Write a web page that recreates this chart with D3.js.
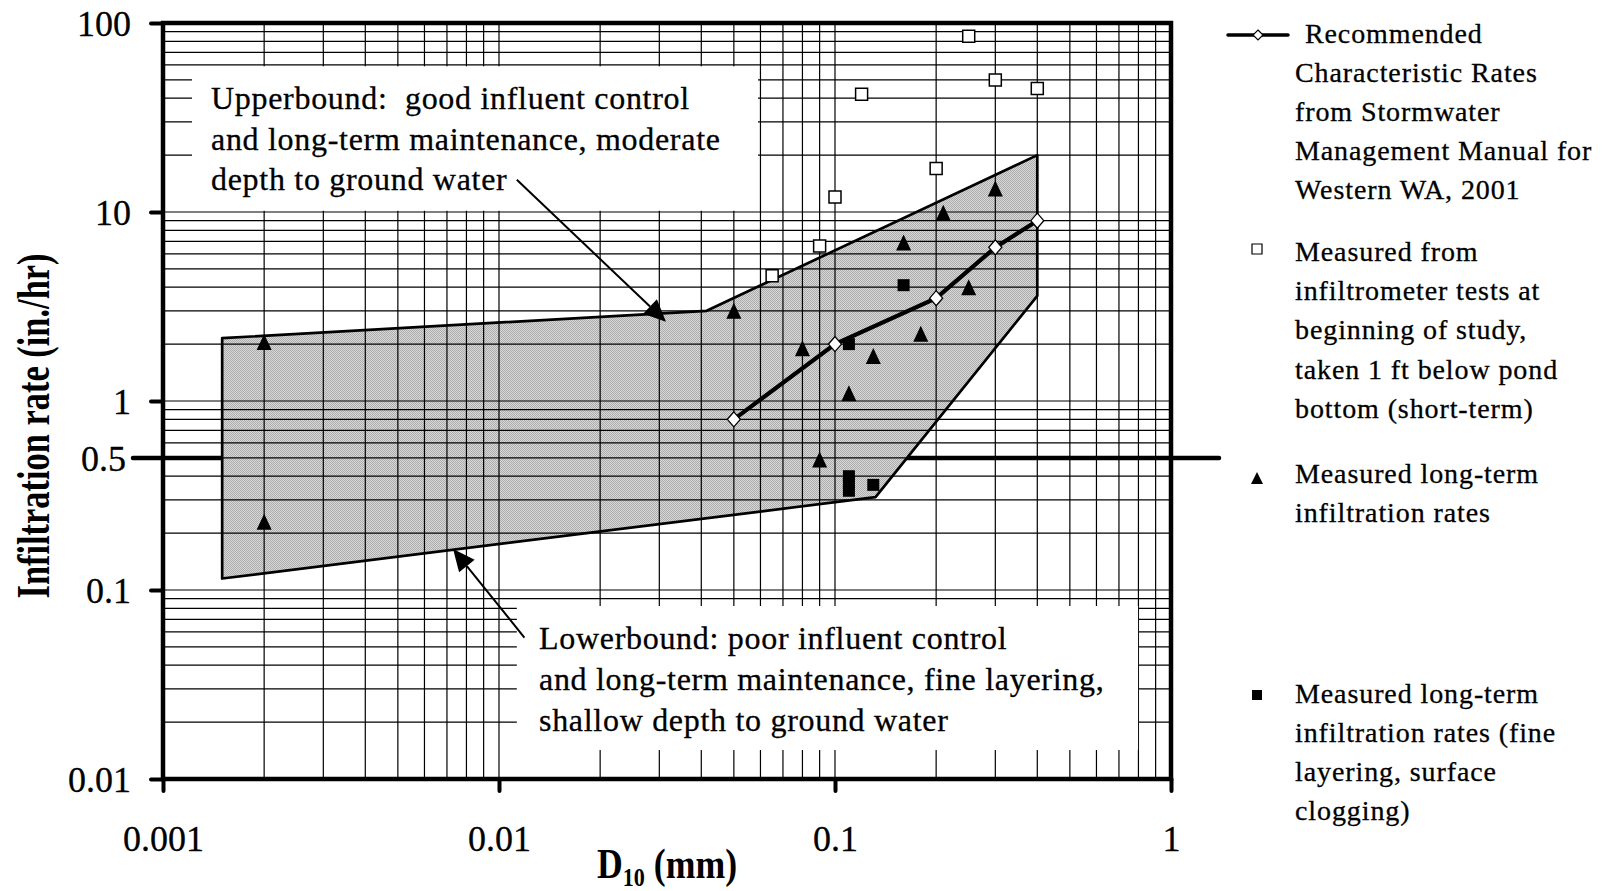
<!DOCTYPE html>
<html>
<head>
<meta charset="utf-8">
<script src="https://cdn.jsdelivr.net/npm/d3@7"></script>
<style>
  html, body { margin: 0; padding: 0; background: #fff; }
  svg { display: block; }
  text { font-family: "Liberation Serif", "Times New Roman", serif; fill: #000; }
</style>
</head>
<body>
<svg id="chart" width="1610" height="891"></svg>
<script>
// ---- Axis ticks ----
const xTickValues = [0.001, 0.01, 0.1, 1];
const xTickLabels = ["0.001", "0.01", "0.1", "1"];
const yTickValues = [0.01, 0.1, 1, 10, 100];
const yTickLabels = ["0.01", "0.1", "1", "10", "100"];

// ---- Recommended characteristic rates (Western WA manual, 2001) ----
const recD10  = [0.05, 0.1, 0.2, 0.3, 0.4];
const recRate = [0.8, 2.0, 3.5, 6.5, 9.0];

// ---- Infiltrometer tests at beginning of study (short-term) ----
const shortD10  = [0.065, 0.09, 0.1, 0.12, 0.2, 0.25, 0.3, 0.4];
const shortRate = [4.6, 6.6, 12, 42, 17, 85, 50, 45];

// ---- Measured long-term infiltration rates ----
const longD10  = [0.002, 0.002, 0.05, 0.08, 0.09, 0.11, 0.13, 0.16, 0.18, 0.21, 0.25, 0.3];
const longRate = [2.05, 0.23, 3.0, 1.9, 0.49, 1.1, 1.73, 6.9, 2.27, 9.9, 4.0, 13.3];

// ---- Long-term rates with fine layering / surface clogging ----
const layerD10  = [0.11, 0.11, 0.11, 0.11, 0.13, 0.16];
const layerRate = [2.0, 0.40, 0.37, 0.335, 0.36, 4.1];

// ---- Envelope: upper bound then lower bound ----
const boundD10  = [0.0015, 0.0415, 0.4, 0.4, 0.132, 0.0015];
const boundRate = [2.15, 3.0, 20, 3.6, 0.31, 0.115];

// ---- Reference rate line ----
const thresholdRate = 0.5;
const thresholdLabel = "0.5";

// ---- Annotation texts ----
const upperNote = ["Upperbound:  good influent control",
                   "and long-term maintenance, moderate",
                   "depth to ground water"];
const lowerNote = ["Lowerbound: poor influent control",
                   "and long-term maintenance, fine layering,",
                   "shallow depth to ground water"];

// ---- Legend texts ----
const legendRec   = [" Recommended", "Characteristic Rates", "from Stormwater",
                     "Management Manual for", "Western WA, 2001"];
const legendShort = ["Measured from", "infiltrometer tests at", "beginning of study,",
                     "taken 1 ft below pond", "bottom (short-term)"];
const legendLong  = ["Measured long-term", "infiltration rates"];
const legendLayer = ["Measured long-term", "infiltration rates (fine",
                     "layering, surface", "clogging)"];

const svg = d3.select("#chart");
const W = 1610, H = 891;
svg.append("rect").attr("width", W).attr("height", H).attr("fill", "#fff");

const x = d3.scaleLog().domain([0.001, 1]).range([163, 1171]);
const y = d3.scaleLog().domain([0.01, 100]).range([779, 23]);
const [x0, x1] = x.range();
const [y1, y0] = y.range();

// dithered grey fill for the envelope
const defs = svg.append("defs");
const pat = defs.append("pattern").attr("id", "dither")
  .attr("patternUnits", "userSpaceOnUse").attr("width", 2).attr("height", 2);
pat.append("rect").attr("width", 2).attr("height", 2).attr("fill", "#d8d8d8");
pat.append("rect").attr("x", 0).attr("y", 0).attr("width", 1).attr("height", 1).attr("fill", "#acacac");
pat.append("rect").attr("x", 1).attr("y", 1).attr("width", 1).attr("height", 1).attr("fill", "#acacac");

// thick reference line at 0.5 in./hr (under the envelope)
svg.append("line")
  .attr("x1", x0 - 30).attr("x2", x1 + 48)
  .attr("y1", y(thresholdRate)).attr("y2", y(thresholdRate))
  .attr("stroke", "#000").attr("stroke-width", 4.5).attr("stroke-linecap", "round");

// envelope fill
const boundPts = boundD10.map((d, i) => [x(d), y(boundRate[i])]);
const polyLine = d3.line();
svg.append("path")
  .attr("d", polyLine(boundPts) + "Z")
  .attr("fill", "url(#dither)");

// log gridlines
const gridX = [], gridY = [];
for (let e = -3; e < 0; e++) for (let m = 1; m <= 9; m++) gridX.push(m * Math.pow(10, e));
for (let e = -2; e < 2; e++) for (let m = 1; m <= 9; m++) gridY.push(m * Math.pow(10, e));
const grid = svg.append("g").attr("stroke", "#000").attr("stroke-width", 1.2);
grid.selectAll("line.gx").data(gridX.filter(v => v > 0.001)).join("line")
  .attr("x1", d => x(d)).attr("x2", d => x(d)).attr("y1", y0).attr("y2", y1);
grid.selectAll("line.gy").data(gridY.filter(v => v > 0.01)).join("line")
  .attr("y1", d => y(d)).attr("y2", d => y(d)).attr("x1", x0).attr("x2", x1);

// white annotation boxes
const upperBox = { xa: 0.00122, xb: 0.059, ya: 10.15, yb: 59 };
const lowerBox = { xa: 0.0113, xb: 0.798, ya: 0.01423, yb: 0.0823 };
[upperBox, lowerBox].forEach(b => {
  svg.append("rect")
    .attr("x", x(b.xa)).attr("y", y(b.yb))
    .attr("width", x(b.xb) - x(b.xa)).attr("height", y(b.ya) - y(b.yb))
    .attr("fill", "#fff");
});

// envelope outline
svg.append("path")
  .attr("d", polyLine(boundPts) + "Z")
  .attr("fill", "none").attr("stroke", "#000").attr("stroke-width", 2.7)
  .attr("stroke-linejoin", "round");

// recommended rates line with diamonds
const recPts = recD10.map((d, i) => [x(d), y(recRate[i])]);
svg.append("path").attr("d", d3.line()(recPts))
  .attr("fill", "none").attr("stroke", "#000").attr("stroke-width", 4.2);
const diamond = (w, h) => `M0,${-h}L${w},0L0,${h}L${-w},0Z`;
svg.selectAll("path.dia").data(recPts).join("path")
  .attr("transform", d => `translate(${d[0]},${d[1]})`)
  .attr("d", diamond(6.5, 7.5))
  .attr("fill", "#fff").attr("stroke", "#000").attr("stroke-width", 1.3);

// markers
const tri = (w, h) => `M0,${-h / 2}L${w / 2},${h / 2}L${-w / 2},${h / 2}Z`;
const sq = s => `M${-s / 2},${-s / 2}h${s}v${s}h${-s}Z`;

svg.selectAll("path.short").data(shortD10.map((d, i) => [x(d), y(shortRate[i])])).join("path")
  .attr("transform", d => `translate(${d[0]},${d[1]})`)
  .attr("d", sq(12)).attr("fill", "#fff").attr("stroke", "#000").attr("stroke-width", 1.5);

svg.selectAll("path.long").data(longD10.map((d, i) => [x(d), y(longRate[i])])).join("path")
  .attr("transform", d => `translate(${d[0]},${d[1]})`)
  .attr("d", tri(15, 16)).attr("fill", "#000");

svg.selectAll("path.layer").data(layerD10.map((d, i) => [x(d), y(layerRate[i])])).join("path")
  .attr("transform", d => `translate(${d[0]},${d[1]})`)
  .attr("d", sq(12)).attr("fill", "#000");

// arrows from annotation texts to the bounds
function arrow(from, to) {
  const ax = x(from[0]), ay = y(from[1]);
  const bx = x(to[0]), by = y(to[1]);
  const L = Math.hypot(bx - ax, by - ay);
  const ux = (bx - ax) / L, uy = (by - ay) / L;
  const len = 22, hw = 10;
  const cx = bx - ux * len, cy = by - uy * len;
  svg.append("line").attr("x1", ax).attr("y1", ay).attr("x2", cx).attr("y2", cy)
    .attr("stroke", "#000").attr("stroke-width", 2);
  svg.append("path")
    .attr("d", `M${bx},${by}L${cx - uy * hw},${cy + ux * hw}L${cx + uy * hw},${cy - ux * hw}Z`)
    .attr("fill", "#000");
}
arrow([0.0113, 14.8], [0.0314, 2.63]);
arrow([0.0119, 0.056], [0.0073, 0.165]);

// plot border
svg.append("rect").attr("x", x0).attr("y", y0)
  .attr("width", x1 - x0).attr("height", y1 - y0)
  .attr("fill", "none").attr("stroke", "#000").attr("stroke-width", 4.5);

// axes: outward decade ticks
const yAxis = d3.axisLeft(y).tickValues(yTickValues).tickSize(12)
  .tickFormat((d, i) => yTickLabels[i]).tickPadding(20);
const gy = svg.append("g").attr("transform", `translate(${x0},0)`).call(yAxis);
const xAxis = d3.axisBottom(x).tickValues(xTickValues).tickSize(12)
  .tickFormat((d, i) => xTickLabels[i]).tickPadding(34);
const gx = svg.append("g").attr("transform", `translate(0,${y1})`).call(xAxis);
[gx, gy].forEach(g => {
  g.select(".domain").remove();
  g.selectAll(".tick line").attr("stroke", "#000").attr("stroke-width", 4).attr("stroke-linecap", "round");
  g.selectAll(".tick text").attr("font-family", "Liberation Serif, Times New Roman, serif")
    .attr("font-size", 36).attr("fill", "#000")
    .attr("stroke", "#000").attr("stroke-width", 0.3);
});
gy.selectAll(".tick text").attr("dy", "0.36em");
gx.selectAll(".tick text").attr("dy", "0.71em");

// label for the 0.5 reference line
svg.append("text").attr("x", x0 - 37).attr("y", y(thresholdRate)).attr("dy", "0.36em")
  .attr("text-anchor", "end").attr("font-size", 36)
  .attr("stroke", "#000").attr("stroke-width", 0.3).text(thresholdLabel);

// axis titles
svg.append("text")
  .attr("transform", "translate(49,426) rotate(-90)")
  .attr("text-anchor", "middle").attr("font-size", 46).attr("font-weight", "bold")
  .attr("textLength", 345).attr("lengthAdjust", "spacingAndGlyphs")
  .text("Infiltration rate (in./hr)");

const xt = svg.append("g").attr("transform", "translate(667,878) scale(0.85,1)")
  .append("text").attr("text-anchor", "middle").attr("font-weight", "bold").attr("font-size", 42);
xt.append("tspan").text("D");
xt.append("tspan").attr("font-size", 26).attr("dy", 8).text("10");
xt.append("tspan").attr("dy", -8).text(" (mm)");

// annotation texts
function lines(arr, xPos, baseY, step, size, spacing) {
  const t = svg.append("text").attr("font-size", size).attr("letter-spacing", spacing)
    .attr("stroke", "#000").attr("stroke-width", 0.3)
    .style("white-space", "pre");
  arr.forEach((s, i) => t.append("tspan").attr("x", xPos).attr("y", baseY + i * step).text(s));
  return t;
}
lines(upperNote, 211, 109, 40.5, 32, 0.7);
lines(lowerNote, 539, 649, 41, 32, 0.7);

// legend
const lg = svg.append("g");
lg.append("line").attr("x1", 1228).attr("x2", 1288).attr("y1", 35).attr("y2", 35)
  .attr("stroke", "#000").attr("stroke-width", 3.5).attr("stroke-linecap", "round");
lg.append("path").attr("transform", "translate(1258,35)").attr("d", diamond(5, 5))
  .attr("fill", "#fff").attr("stroke", "#000").attr("stroke-width", 1.2);
lg.append("path").attr("transform", "translate(1257,249)").attr("d", sq(10))
  .attr("fill", "#fff").attr("stroke", "#000").attr("stroke-width", 1.2);
lg.append("path").attr("transform", "translate(1257,478)").attr("d", tri(12, 12)).attr("fill", "#000");
lg.append("path").attr("transform", "translate(1257,695)").attr("d", sq(10)).attr("fill", "#000");

const recText = lines(legendRec, 1295, 43, 39, 28, 0.9);
recText.select("tspan").attr("x", 1297);
lines(legendShort, 1295, 261, 39.2, 28, 0.9);
lines(legendLong, 1295, 483, 39, 28, 0.9);
lines(legendLayer, 1295, 703, 39, 28, 0.9);
</script>
</body>
</html>
